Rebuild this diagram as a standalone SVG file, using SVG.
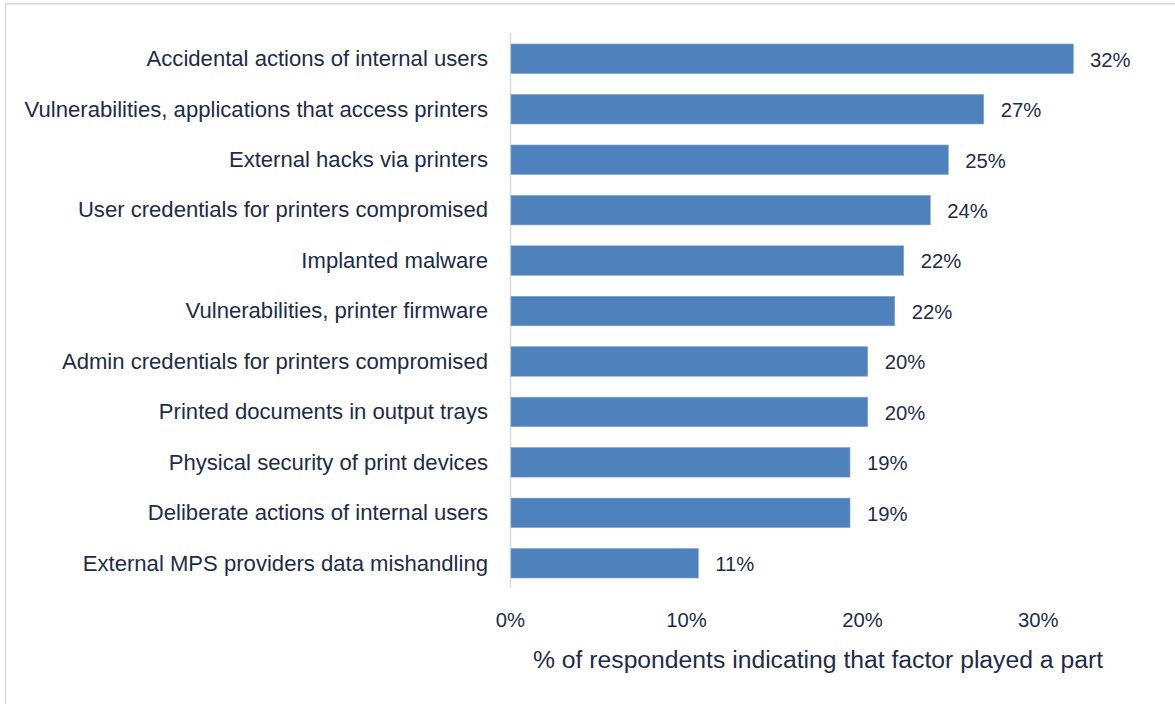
<svg xmlns="http://www.w3.org/2000/svg" width="1175" height="704" viewBox="0 0 1175 704">
<style>
.bg{fill:#ffffff}
.frame{fill:none;stroke:#d9d9d9;stroke-width:1.5}
.axis{stroke:#d9d9d9;stroke-width:1.5;fill:none}
.bar{fill:#4f81bd;stroke:#7fa3d0;stroke-width:0.6}
text{font-family:"Liberation Sans",Arial,sans-serif;fill:#1c2c4a}
.cat{font-size:22.1px;text-anchor:end}
.val{font-size:20.3px}
.tick{font-size:20.3px;text-anchor:middle}
.title{font-size:23px;text-anchor:middle}
</style>
<rect class="bg" x="0" y="0" width="1175" height="704"/>
<rect class="frame" x="5.5" y="3.75" width="1180" height="720"/>
<g id="connectors">
<line class="axis" x1="510.5" y1="33" x2="510.5" y2="588"/>
</g>
<g id="bar1"><rect class="bar" x="511" y="44" width="562.3" height="29.5"/><text class="cat" x="488" y="66">Accidental actions of internal users</text><text class="val" x="1090" y="66.5">32%</text></g>
<g id="bar2"><rect class="bar" x="511" y="94.5" width="472.7" height="29.5"/><text class="cat" x="488" y="116.5">Vulnerabilities, applications that access printers</text><text class="val" x="1000.7" y="117">27%</text></g>
<g id="bar3"><rect class="bar" x="511" y="145" width="437.3" height="29.5"/><text class="cat" x="488" y="167">External hacks via printers</text><text class="val" x="965.3" y="167.5">25%</text></g>
<g id="bar4"><rect class="bar" x="511" y="195.4" width="419.3" height="29.5"/><text class="cat" x="488" y="217.4">User credentials for printers compromised</text><text class="val" x="947.3" y="217.9">24%</text></g>
<g id="bar5"><rect class="bar" x="511" y="245.8" width="392.7" height="29.5"/><text class="cat" x="488" y="267.8">Implanted malware</text><text class="val" x="920.7" y="268.3">22%</text></g>
<g id="bar6"><rect class="bar" x="511" y="296.3" width="383.7" height="29.5"/><text class="cat" x="488" y="318.3">Vulnerabilities, printer firmware</text><text class="val" x="911.7" y="318.8">22%</text></g>
<g id="bar7"><rect class="bar" x="511" y="346.7" width="356.7" height="29.5"/><text class="cat" x="488" y="368.7">Admin credentials for printers compromised</text><text class="val" x="884.7" y="369.2">20%</text></g>
<g id="bar8"><rect class="bar" x="511" y="397.2" width="356.7" height="29.5"/><text class="cat" x="488" y="419.2">Printed documents in output trays</text><text class="val" x="884.7" y="419.7">20%</text></g>
<g id="bar9"><rect class="bar" x="511" y="447.6" width="339" height="29.5"/><text class="cat" x="488" y="469.6">Physical security of print devices</text><text class="val" x="867" y="470.1">19%</text></g>
<g id="bar10"><rect class="bar" x="511" y="498.1" width="339" height="29.5"/><text class="cat" x="488" y="520.1">Deliberate actions of internal users</text><text class="val" x="867" y="520.6">19%</text></g>
<g id="bar11"><rect class="bar" x="511" y="548.5" width="187.3" height="29.5"/><text class="cat" x="488" y="570.5">External MPS providers data mishandling</text><text class="val" x="715.3" y="571">11%</text></g>
<g id="xaxis">
<text class="tick" x="510.5" y="626.5">0%</text>
<text class="tick" x="686.5" y="626.5">10%</text>
<text class="tick" x="862.5" y="626.5">20%</text>
<text class="tick" x="1038.3" y="626.5">30%</text>
<text class="title" x="818" y="667.5" textLength="570" lengthAdjust="spacingAndGlyphs">% of respondents indicating that factor played a part</text>
</g>
</svg>
